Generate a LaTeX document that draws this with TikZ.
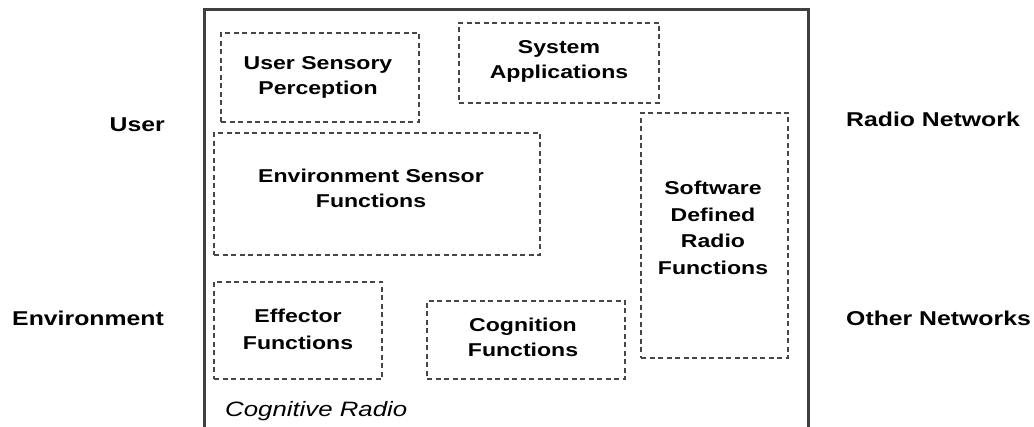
\documentclass[tikz,border=0pt]{standalone}
\usepackage{fontspec}
\setmainfont{Liberation Sans}
\newfontfamily\labfont[FakeStretch=1.24]{Liberation Sans}
\begin{document}
\begin{tikzpicture}[x=1pt,y=-1pt,
  dbox/.style={draw=black!72, line width=1.3pt, dash pattern=on 5pt off 3.5pt, minimum width=#1, inner sep=0pt},
  intext/.style={align=center, inner sep=0pt, font=\labfont\fontsize{18.6}{25}\selectfont\bfseries},
  outtext/.style={inner sep=0pt, font=\labfont\fontsize{20}{24}\selectfont\bfseries},
  outer/.style={draw=black!75, line width=3pt}]
\useasboundingbox (0,0) rectangle (1034,427);
\fill[white] (0,0) rectangle (1034,427);
% outer frame
\coordinate (obl) at (204,428);
\coordinate (otl) at (204,10);
\coordinate (otr) at (808,10);
\coordinate (obr) at (808,428);
\draw[outer, line join=miter] (obl) -- (otl) -- (otr) -- (obr);
% dashed boxes
\node[dbox=198pt, minimum height=89pt] (usp) at (320,77.5) {};
\node[dbox=200pt, minimum height=80pt] (sapp) at (559,63) {};
\node[dbox=326pt, minimum height=122pt] (env) at (377,194) {};
\node[dbox=147pt, minimum height=245pt] (sdr) at (714.5,235.5) {};
\node[dbox=168pt, minimum height=97pt] (eff) at (298,330.5) {};
\node[dbox=198pt, minimum height=78pt] (cog) at (526,340) {};
% texts in boxes
\node[intext] (uspt) at (318,77.5) {User Sensory\\Perception};
\node[intext] (sappt) at (559,61.5) {System\\Applications};
\node[intext] (envt) at (371,188.5) {Environment Sensor\\Functions};
\node[intext, font=\labfont\fontsize{18.6}{26.7}\selectfont\bfseries] (sdrt) at (713,228) {Software\\Defined\\Radio\\Functions};
\node[intext, font=\labfont\fontsize{18.6}{27}\selectfont\bfseries] (efft) at (298,329.5) {Effector\\Functions};
\node[intext] (cogt) at (523,337.5) {Cognition\\Functions};
% outside labels
\node[outtext, anchor=base east] (user) at (165,132) {User};
\node[outtext, anchor=base east] (envl) at (164,326) {Environment};
\node[outtext, anchor=base west] (radio) at (846,127) {Radio Network};
\node[outtext, anchor=base west] (other) at (846,326) {Other Networks};
\node[inner sep=0pt, anchor=base west, font=\labfont\fontsize{20.8}{24}\selectfont\itshape] (cr) at (225,417) {Cognitive Radio};
\end{tikzpicture}
\end{document}
